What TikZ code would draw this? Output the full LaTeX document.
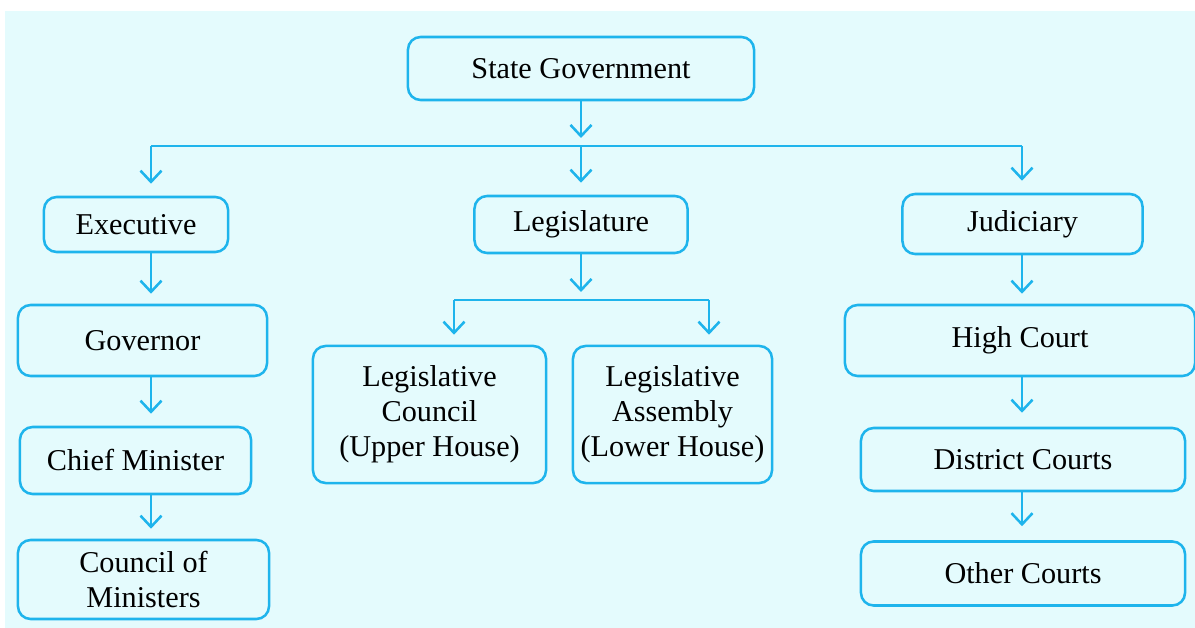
\documentclass[tikz,border=0pt]{standalone}
\usepackage{fontspec}
\setmainfont{Liberation Serif}
\usetikzlibrary{arrows.meta,calc,positioning}
\definecolor{skyline}{RGB}{30,180,236}
\definecolor{paleback}{RGB}{228,251,253}
\tikzset{
  box/.style={draw=skyline, line width=1.8pt, rounded corners=9pt, align=center,
    inner sep=2pt, font=\fontsize{21.5}{25}\selectfont},
  arr/.style={draw=skyline, line width=1.8pt, -{Straight Barb[length=8pt,width=15pt,line width=1.8pt]}, shorten >=0.3cm},
  bus/.style={draw=skyline, line width=1.8pt}
}

\begin{document}
\begin{tikzpicture}[x=0.025cm,y=-0.025cm]
% Background.
\useasboundingbox (0,0) rectangle (1195,628);
\fill[paleback] (5,11) rectangle (1195,628);

% Top box.
\node (gov) at (581,68.5) [box,minimum width=8.65cm,minimum height=1.575cm]{State Government};

% Three branches.
\node (exec) at (136,224.5) [box,minimum width=4.6cm,minimum height=1.375cm]{Executive};
\node (legis) at (581,224.5) [box,minimum width=5.325cm,minimum height=1.425cm]{Legislature};
\node (jud) at (1022.5,224) [box,minimum width=6cm,minimum height=1.5cm]{Judiciary};

% Executive column.
\node (governor) at (142.5,340.5) [box,minimum width=6.225cm,minimum height=1.775cm]{Governor};
\node (cm) at (135.5,460.5) [box,minimum width=5.775cm,minimum height=1.675cm]{Chief Minister};
\node (com) at (143.5,579.5) [box,minimum width=6.275cm,minimum height=1.975cm]{Council of\\Ministers};

% Legislature houses.
\node (lc) at (429.5,414.5) [box,minimum width=5.825cm,minimum height=3.425cm]{Legislative\\Council\\(Upper House)};
\node (la) at (672.5,414.5) [box,minimum width=4.975cm,minimum height=3.425cm]{Legislative\\Assembly\\(Lower House)};

% Judiciary column.
\node (hc) at (1020,340.5) [box,minimum width=8.75cm,minimum height=1.775cm]{High Court};
\node (dc) at (1023,459.5) [box,minimum width=8.1cm,minimum height=1.575cm]{District Courts};
\node (oc) at (1023,573.5) [box,minimum width=8.1cm,minimum height=1.6cm]{Other Courts};

% Bus lines.
\coordinate (busL) at (151,146);
\coordinate (busM) at (581,146);
\coordinate (busR) at (1022,146);
\coordinate (legL) at (454,300);
\coordinate (legM) at (581,300);
\coordinate (legR) at (709,300);
\draw[bus] (busL) -- (busR);
\draw[bus] (legL) -- (legR);

% Arrows from the top box.
\draw[arr,shorten >=0.2cm] (gov.south) -- (busM);
\draw[arr] (busL) -- (exec.north -| busL);
\draw[arr] (busM) -- (legis.north);
\draw[arr] (busR) -- (jud.north -| busR);

% Arrows down the executive.
\draw[arr,shorten >=0.25cm] (exec.south -| busL) -- (governor.north -| busL);
\draw[arr] (governor.south -| busL) -- (cm.north -| busL);
\draw[arr,shorten >=0.25cm] (cm.south -| busL) -- (com.north -| busL);

% Arrows of the legislature.
\draw[arr,shorten >=0.2cm] (legis.south) -- (legM);
\draw[arr,shorten >=0.25cm] (legL) -- (lc.north -| legL);
\draw[arr,shorten >=0.25cm] (legR) -- (la.north -| legR);

% Arrows down the judiciary.
\draw[arr,shorten >=0.25cm] (jud.south -| busR) -- (hc.north -| busR);
\draw[arr,shorten >=0.35cm] (hc.south -| busR) -- (dc.north -| busR);
\draw[arr,shorten >=0.35cm] (dc.south -| busR) -- (oc.north -| busR);
\end{tikzpicture}
\end{document}
